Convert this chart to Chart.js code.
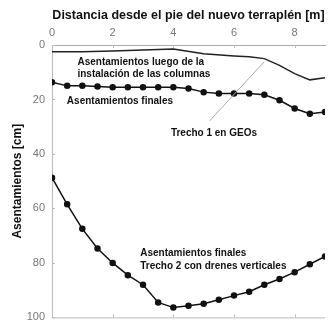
<!DOCTYPE html>
<html>
<head>
<meta charset="utf-8">
<script src="https://cdn.jsdelivr.net/npm/chart.js@4.4.1/dist/chart.umd.min.js"></script>
<style>
  body { margin: 0; background: #fff; }
  canvas { display: block; }
</style>
</head>
<body>
<canvas id="chart" width="329" height="331"></canvas>
<script>
// distance from the toe of the embankment [m]
const distLuego = [0, 1, 2, 3, 4, 5, 6, 6.5, 7, 7.5, 8, 8.5, 9];
const asentLuego = [2.5, 2.5, 2.2, 1.8, 1.5, 3.2, 4, 4.3, 5, 7.5, 10.5, 12.8, 12];

const dist = [0, 0.5, 1, 1.5, 2, 2.5, 3, 3.5, 4, 4.5, 5, 5.5, 6, 6.5, 7, 7.5, 8, 8.5, 9];
const asentTrecho1 = [13.7, 15, 15, 15.2, 15.5, 15.5, 15.5, 15.5, 15.5, 16, 17.3, 17.8, 17.8, 17.8, 18.3, 20.3, 23.3, 25.2, 24.6];
const asentTrecho2 = [48.7, 58.5, 67.5, 74.7, 80, 84.5, 88, 94.5, 96.4, 95.7, 95, 93.5, 92, 90.6, 88, 85.9, 83.4, 80.5, 77.6];

const xTicks = [0, 2, 4, 6, 8];
const yTicks = [0, 20, 40, 60, 80, 100];

function toPoints(xs, ys) {
  return xs.map(function(x, i) { return {x: x, y: ys[i]}; });
}

// labels written inside the plot, in data units
const notes = [
  {text: 'Asentamientos luego de la', x: 0.84, y: 6.5},
  {text: 'instalación de las columnas', x: 0.84, y: 10.8},
  {text: 'Asentamientos finales', x: 0.49, y: 20.6},
  {text: 'Trecho 1 en GEOs', x: 3.92, y: 32.5},
  {text: 'Asentamientos finales', x: 2.91, y: 76.5},
  {text: 'Trecho 2 con drenes verticales', x: 2.91, y: 81.2}
];
const leader = [{x: 5.2, y: 27.8}, {x: 7.0, y: 6.1}];

const extras = {
  id: 'extras',
  afterDatasetsDraw: function(chart) {
    const c = chart.ctx;
    const xs = chart.scales.x;
    const ys = chart.scales.y;
    const area = chart.chartArea;
    c.save();
    // small inner tick marks
    c.strokeStyle = '#bbb';
    c.lineWidth = 1;
    c.beginPath();
    xTicks.forEach(function(t) {
      const px = Math.round(xs.getPixelForValue(t)) + 0.5;
      c.moveTo(px, area.top); c.lineTo(px, area.top + 3);
      c.moveTo(px, area.bottom); c.lineTo(px, area.bottom - 3);
    });
    yTicks.forEach(function(t) {
      const py = Math.round(ys.getPixelForValue(t)) + 0.5;
      c.moveTo(area.left, py); c.lineTo(area.left + 3, py);
    });
    c.stroke();
    // bottom frame line
    c.beginPath();
    c.moveTo(area.left, area.bottom + 0.5);
    c.lineTo(area.right, area.bottom + 0.5);
    c.stroke();
    // leader line
    c.strokeStyle = '#aaa';
    c.beginPath();
    c.moveTo(xs.getPixelForValue(leader[0].x), ys.getPixelForValue(leader[0].y));
    c.lineTo(xs.getPixelForValue(leader[1].x), ys.getPixelForValue(leader[1].y));
    c.stroke();
    // notes
    c.fillStyle = '#111';
    c.font = 'bold 10px "Liberation Sans", Arial, sans-serif';
    c.textBaseline = 'middle';
    c.textAlign = 'left';
    notes.forEach(function(n) {
      c.fillText(n.text, xs.getPixelForValue(n.x), ys.getPixelForValue(n.y));
    });
    c.restore();
  }
};

const lineStyle = {
  borderColor: '#111',
  backgroundColor: '#111',
  borderWidth: 1.5,
  pointRadius: 2.5,
  pointHoverRadius: 2.5,
  tension: 0,
  showLine: true
};

const config = {
  type: 'scatter',
  data: {
    datasets: [
      Object.assign({}, lineStyle, {label: 'Luego de la instalación', data: toPoints(distLuego, asentLuego), pointRadius: 0, borderColor: '#222'}),
      Object.assign({}, lineStyle, {label: 'Trecho 1', data: toPoints(dist, asentTrecho1)}),
      Object.assign({}, lineStyle, {label: 'Trecho 2', data: toPoints(dist, asentTrecho2)})
    ]
  },
  options: {
    responsive: false,
    animation: false,
    layout: {padding: {left: 0, right: 0, top: 0, bottom: 8}},
    plugins: {legend: {display: false}, tooltip: {enabled: false}},
    scales: {
      x: {
        type: 'linear',
        position: 'top',
        min: 0,
        max: 9,
        afterFit: function(scale) { scale.height = 45; },
        afterBuildTicks: function(scale) { scale.ticks = xTicks.map(function(v) { return {value: v}; }); },
        grid: {display: true, drawOnChartArea: false, drawTicks: false},
        border: {display: true, color: '#aaa', width: 1},
        ticks: {color: '#777', padding: 5, font: {family: 'Liberation Sans', size: 11}},
        title: {
          display: true,
          text: 'Distancia desde el pie del nuevo terraplén [m]',
          color: '#111',
          padding: {top: 8, bottom: 0},
          font: {family: 'Liberation Sans', size: 12.5, weight: 'bold'}
        }
      },
      y: {
        type: 'linear',
        reverse: true,
        min: 0,
        max: 100,
        afterFit: function(scale) { scale.width = 52; },
        afterBuildTicks: function(scale) { scale.ticks = yTicks.map(function(v) { return {value: v}; }); },
        grid: {display: true, drawOnChartArea: false, drawTicks: false},
        border: {display: true, color: '#bbb', width: 1},
        ticks: {color: '#777', padding: 7, font: {family: 'Liberation Sans', size: 11}},
        title: {
          display: true,
          text: 'Asentamientos [cm]',
          color: '#111',
          padding: {top: 10, bottom: 0},
          font: {family: 'Liberation Sans', size: 12, weight: 'bold'}
        }
      }
    }
  },
  plugins: [extras]
};

new Chart(document.getElementById('chart'), config);
</script>
</body>
</html>
